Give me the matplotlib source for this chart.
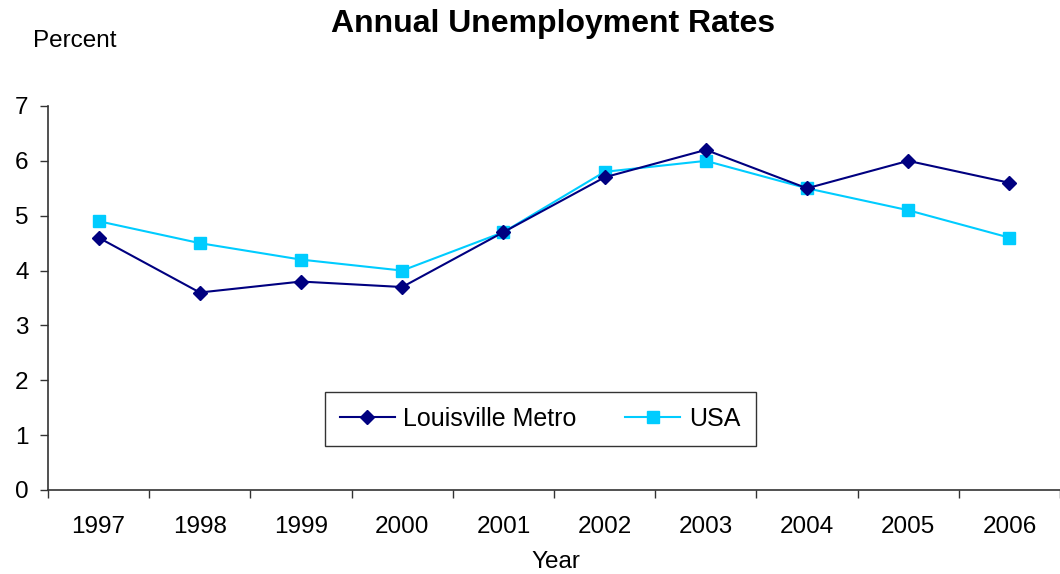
import matplotlib.pyplot as plt
import numpy as np

years = ["1997", "1998", "1999", "2000", "2001", "2002", "2003", "2004", "2005", "2006"]
louisville = [4.6, 3.6, 3.8, 3.7, 4.7, 5.7, 6.2, 5.5, 6.0, 5.6]
usa = [4.9, 4.5, 4.2, 4.0, 4.7, 5.8, 6.0, 5.5, 5.1, 4.6]

plt.rcParams['font.family'] = ['Liberation Sans', 'DejaVu Sans']

fig = plt.figure(figsize=(10.6, 5.74), dpi=100)
ax = fig.add_axes([48 / 1060, 1 - 490 / 574, 1 - 48 / 1060, (490 - 106) / 574])

x = np.arange(len(years)) + 0.5
ax.plot(x, louisville, color='#000080', lw=1.5, marker='D', ms=7.5,
        label='Louisville Metro', zorder=3)
ax.plot(x, usa, color='#00CCFF', lw=1.5, marker='s', ms=8,
        label='USA', zorder=2)

ax.set_xlim(0, len(years))
ax.set_ylim(0, 7)
ax.set_yticks(range(8))
# category boundaries get the tick marks, labels sit between them
ax.set_xticks(np.arange(len(years) + 1))
ax.set_xticklabels([])
ax.set_xticks(x, minor=True)
ax.set_xticklabels(years, minor=True)
ax.tick_params(axis='x', which='minor', length=0, pad=19, labelsize=17.5)
ax.tick_params(axis='x', which='major', length=6, direction='out', width=1, color='#333333')
ax.tick_params(axis='y', length=6, direction='out', width=1, color='#333333', labelsize=17.5, pad=8)

for side in ['top', 'right']:
    ax.spines[side].set_visible(False)
for side in ['left', 'bottom']:
    ax.spines[side].set_color('#333333')
    ax.spines[side].set_linewidth(1.2)

leg = ax.legend(loc='center', bbox_to_anchor=((540 - 48) / 1012, (490 - 419) / 384),
                ncol=2, fontsize=18, frameon=True, fancybox=False,
                edgecolor='black', handlelength=2.2, handletextpad=0.35,
                borderpad=0.6, borderaxespad=0, columnspacing=1.95)
leg.get_frame().set_linewidth(1.0)

fig.text(553 / 1060, 1 - 24 / 574, "Annual Unemployment Rates", ha='center', va='center',
         fontsize=23, fontweight='bold')
fig.text(33 / 1060, 1 - 41 / 574, "Percent", ha='left', va='center', fontsize=17.5)
fig.text(556 / 1060, 1 - 562 / 574, "Year", ha='center', va='center', fontsize=17.5)

fig.savefig('out.png', dpi=100)
